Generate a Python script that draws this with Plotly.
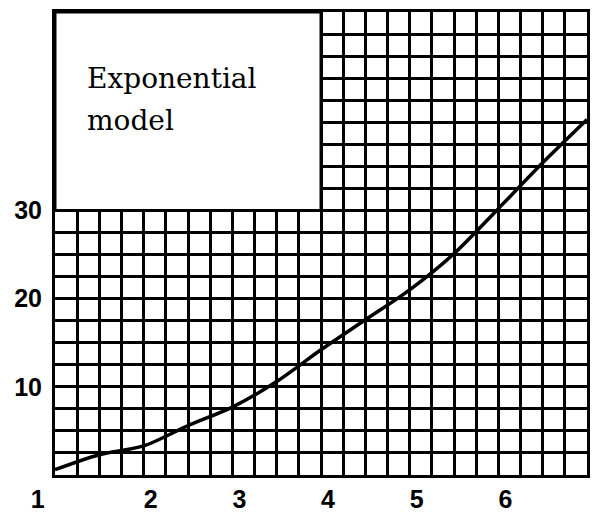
import plotly.graph_objects as go

# data
x_vals = [1.0, 1.5, 2.0, 2.5, 3.0, 3.5, 4.0, 4.5, 5.0, 5.5, 6.0, 6.5, 7.0]
y_vals = [0.6, 2.3, 3.3, 5.6, 7.7, 10.6, 14.2, 17.6, 21.0, 25.1, 30.2, 35.4, 40.3]
x_ticks = [1, 2, 3, 4, 5, 6]
y_ticks = [10, 20, 30]
label_lines = ["Exponential", "model"]

# box extents (data coords)
box_x = [1, 4]
box_y = [30, 52.5]

# the first x label sits left of the axis corner in the reference
x_text = [str(v) for v in x_ticks]
x_text[0] = x_text[0] + "\u00a0" * 7

fig = go.Figure()
fig.add_trace(go.Scatter(x=x_vals, y=y_vals, mode="lines",
                         line=dict(color="black", width=3.5, shape="spline", smoothing=0.8),
                         showlegend=False, hoverinfo="skip"))

tick_font = dict(family="Liberation Sans", size=25, color="black", weight="bold")
fig.update_xaxes(range=[1, 7], tickvals=x_ticks, ticktext=x_text,
                 ticks="", showline=True, linecolor="black", linewidth=3, mirror=True,
                 zeroline=False, ticklabelshift=7, ticklabelstandoff=0, automargin=False,
                 tickfont=tick_font,
                 showgrid=True, gridcolor="black", gridwidth=2.5,
                 minor=dict(tick0=1, dtick=0.25, showgrid=True, gridcolor="black", gridwidth=2.5))
fig.update_yaxes(range=[0, 52.5], tickvals=y_ticks, ticktext=[str(v) for v in y_ticks],
                 ticks="", showline=True, linecolor="black", linewidth=3, mirror=True,
                 zeroline=False, ticklabelstandoff=5, automargin=False,
                 tickfont=tick_font,
                 showgrid=True, gridcolor="black", gridwidth=2.5,
                 minor=dict(tick0=0, dtick=2.5, showgrid=True, gridcolor="black", gridwidth=2.5))

fig.add_shape(type="rect", x0=box_x[0], x1=box_x[1], y0=box_y[0], y1=box_y[1],
              xref="x", yref="y", fillcolor="white", line=dict(color="black", width=3),
              layer="above")

fig.add_annotation(x=0.056, y=0.856, xref="paper", yref="paper", text=label_lines[0],
                   showarrow=False, xanchor="left", yanchor="middle",
                   font=dict(family="DejaVu Serif", size=28, color="black"))
fig.add_annotation(x=0.056, y=0.765, xref="paper", yref="paper", text=label_lines[1],
                   showarrow=False, xanchor="left", yanchor="middle",
                   font=dict(family="DejaVu Serif", size=28, color="black"))

# page body has an 8px margin, so the figure is sized to fit inside 600x518
fig.update_layout(width=592, height=510, margin=dict(l=47, r=13, t=4, b=43),
                  paper_bgcolor="white", plot_bgcolor="white")
fig.write_html("out.html")
